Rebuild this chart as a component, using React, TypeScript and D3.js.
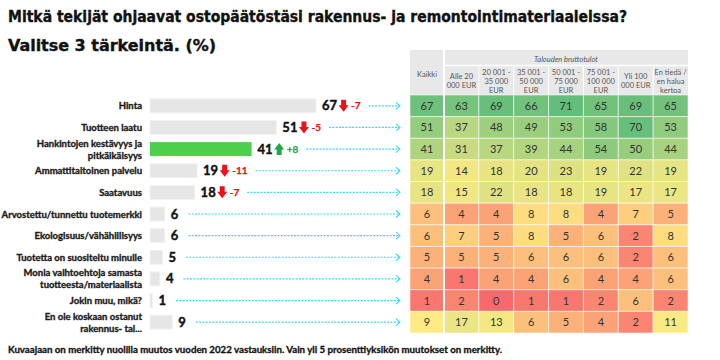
import React, { useEffect, useRef } from "react";
import * as d3 from "d3";

const title1 = "Mitkä tekijät ohjaavat ostopäätöstäsi rakennus- ja remontointimateriaaleissa?";
const title2 = "Valitse 3 tärkeintä. (%)";
const footnote =
  "Kuvaajaan on merkitty nuolilla muutos vuoden 2022 vastauksiin. Vain yli 5 prosenttiyksikön muutokset on merkitty.";

const categories = [
  "Hinta",
  "Tuotteen laatu",
  "Hankintojen kestävyys ja\npitkäikäisyys",
  "Ammattitaitoinen palvelu",
  "Saatavuus",
  "Arvostettu/tunnettu tuotemerkki",
  "Ekologisuus/vähähiilisyys",
  "Tuotetta on suositeltu minulle",
  "Monia vaihtoehtoja samasta\ntuotteesta/materiaalista",
  "Jokin muu, mikä?",
  "En ole koskaan ostanut\nrakennus- tai...",
];
const totals = [67, 51, 41, 19, 18, 6, 6, 5, 4, 1, 9];
const changes = [-7, -5, 8, -11, -7, null, null, null, null, null, null];
const highlighted = 2;

const groupTitle = "Talouden bruttotulot";
const columnHeaders = [
  "Kaikki",
  "Alle 20\n000 EUR",
  "20 001 -\n35 000\nEUR",
  "35 001 -\n50 000\nEUR",
  "50 001 -\n75 000\nEUR",
  "75 001 -\n100 000\nEUR",
  "Yli 100\n000 EUR",
  "En tiedä /\nen halua\nkertoa",
];
const kaikki = [67, 51, 41, 19, 18, 6, 6, 5, 4, 1, 9];
const alle20 = [63, 37, 31, 14, 15, 4, 7, 5, 1, 2, 17];
const tulot20to35 = [69, 48, 37, 18, 22, 4, 5, 5, 4, 0, 13];
const tulot35to50 = [66, 49, 39, 20, 18, 8, 8, 6, 4, 1, 6];
const tulot50to75 = [71, 53, 44, 23, 18, 8, 5, 6, 6, 1, 5];
const tulot75to100 = [65, 58, 54, 19, 19, 4, 6, 6, 4, 2, 4];
const yli100 = [69, 70, 50, 22, 17, 7, 2, 2, 4, 6, 2];
const enTieda = [65, 53, 44, 19, 17, 5, 8, 6, 6, 2, 11];
const tableColumns = [kaikki, alle20, tulot20to35, tulot35to50, tulot50to75, tulot75to100, yli100, enTieda];

const LABEL_FONT = "Lato, 'Open Sans', sans-serif";
const TITLE_FONT = "'DejaVu Sans Condensed', 'DejaVu Sans', sans-serif";

export default function App() {
  const ref = useRef<SVGSVGElement>(null);

  useEffect(() => {
    const svg = d3.select(ref.current);
    svg.selectAll("*").remove();

    const rowTop = 95, rowBottom = 333;
    const y = d3.scaleBand<number>().domain(d3.range(categories.length)).range([rowTop, rowBottom]);
    const cy = (i: number) => (y(i) as number) + y.bandwidth() / 2;

    // titles
    svg.append("text").attr("x", 8).attr("y", 22).text(title1)
      .attr("font-family", TITLE_FONT).attr("font-weight", 700).attr("font-size", 16)
      .attr("fill", "#111").attr("stroke", "#111").attr("stroke-width", 0.35)
      .attr("textLength", 619).attr("lengthAdjust", "spacingAndGlyphs");
    svg.append("text").attr("x", 8).attr("y", 51).text(title2)
      .attr("font-family", TITLE_FONT).attr("font-weight", 700).attr("font-size", 16)
      .attr("fill", "#111").attr("stroke", "#111").attr("stroke-width", 0.35)
      .attr("textLength", 208).attr("lengthAdjust", "spacingAndGlyphs");

    // bar chart
    const x = d3.scaleLinear().domain([0, 67]).range([150, 316]);
    const barH = 14;
    const bars = svg.append("g");
    categories.forEach((cat, i) => {
      const c = cy(i);
      const lines = cat.split("\n");
      const lab = bars.append("text").attr("text-anchor", "end")
        .attr("font-family", LABEL_FONT).attr("font-weight", 700).attr("font-size", 9.5)
        .attr("fill", "#1a1a1a").attr("stroke", "#1a1a1a").attr("stroke-width", 0.35);
      lines.forEach((l, k) => {
        lab.append("tspan").attr("x", 142)
          .attr("y", c + (k - (lines.length - 1) / 2) * 12 + 3.5).text(l);
      });

      bars.append("rect").attr("x", x(0)).attr("y", c - barH / 2)
        .attr("width", x(totals[i]) - x(0)).attr("height", barH)
        .attr("fill", i === highlighted ? "#4cd04c" : "#e6e6e7")
        .attr("stroke", i === highlighted ? "none" : "#f3f3f3").attr("stroke-width", 1);

      let cursor = x(totals[i]) + 6;
      const val = bars.append("text").attr("x", cursor).attr("y", c + 4.5).text(totals[i])
        .attr("font-family", LABEL_FONT).attr("font-weight", 700).attr("font-size", 13)
        .attr("fill", "#111").attr("stroke", "#111").attr("stroke-width", 0.4);
      cursor += (val.node() as SVGTextElement).getComputedTextLength() + 2;

      const ch = changes[i];
      if (ch !== null) {
        const col = ch < 0 ? "#e8141a" : "#21a84a";
        const ax = cursor + 4.5;
        const path = ch < 0
          ? `M${ax - 2.5},${c - 6}h5v5.5h2.5l-5,6.5l-5,-6.5h2.5z`
          : `M${ax - 2.5},${c + 6}h5v-5.5h2.5l-5,-6.5l-5,6.5h2.5z`;
        bars.append("path").attr("d", path).attr("fill", col);
        cursor += 12;
        const ct = bars.append("text").attr("x", cursor).attr("y", c + 3.5)
          .text(ch < 0 ? `${ch}` : `+${ch}`)
          .attr("font-family", LABEL_FONT).attr("font-weight", 700).attr("font-size", 10)
          .attr("fill", ch < 0 ? "#f01010" : "#2aa54a")
          .attr("stroke", ch < 0 ? "#f01010" : "#2aa54a").attr("stroke-width", 0.25);
        cursor += (ct.node() as SVGTextElement).getComputedTextLength();
      }

      const x0 = cursor + 8, x1 = 400;
      bars.append("line").attr("x1", x0).attr("x2", x1 - 1).attr("y1", c).attr("y2", c)
        .attr("stroke", "#35d8f5").attr("stroke-width", 1.2).attr("stroke-dasharray", "2,1.3");
      bars.append("path").attr("d", `M${x1 - 4},${c - 3.5}L${x1},${c}L${x1 - 4},${c + 3.5}`)
        .attr("fill", "none").attr("stroke", "#35d8f5").attr("stroke-width", 1.1);
    });

    // heatmap table
    const tx0 = 410, kaikkiW = 34, tx1 = 688;
    const colX = (j: number) => (j === 0 ? tx0 : tx0 + kaikkiW + (j - 1) * ((tx1 - tx0 - kaikkiW) / 7));
    const colW = (j: number) => (j === 0 ? kaikkiW : (tx1 - tx0 - kaikkiW) / 7);
    const color = d3.scaleLinear<string>().domain([0, 9, 71]).range(["#f8696b", "#ffeb84", "#63be7b"]);

    const table = svg.append("g");
    // header
    table.append("rect").attr("x", tx0).attr("y", 50).attr("width", tx1 - tx0).attr("height", rowTop - 50).attr("fill", "#e8e8e8");
    table.append("text").attr("x", (colX(1) + tx1) / 2).attr("y", 61.5).attr("text-anchor", "middle")
      .attr("font-family", LABEL_FONT).attr("font-style", "italic").attr("font-size", 7.5).attr("fill", "#555").text(groupTitle);
    table.append("line").attr("x1", colX(1)).attr("x2", tx1).attr("y1", 65.5).attr("y2", 65.5).attr("stroke", "#fff").attr("stroke-width", 1.5);
    columnHeaders.forEach((h, j) => {
      const lines = h.split("\n");
      const mid = j === 0 ? 74 : 81;
      const t = table.append("text").attr("text-anchor", "middle")
        .attr("font-family", LABEL_FONT).attr("font-size", 7.5).attr("fill", "#555");
      lines.forEach((l, k) => {
        t.append("tspan").attr("x", colX(j) + colW(j) / 2).attr("y", mid + (k - (lines.length - 1) / 2) * 9 + 2.7).text(l);
      });
      if (j > 1) {
        table.append("line").attr("x1", colX(j)).attr("x2", colX(j)).attr("y1", 66).attr("y2", rowTop)
          .attr("stroke", "#fff").attr("stroke-width", 1);
      }
    });

    // cells
    tableColumns.forEach((vals, j) => {
      vals.forEach((v, i) => {
        table.append("rect").attr("x", colX(j)).attr("y", y(i) as number)
          .attr("width", colW(j)).attr("height", y.bandwidth())
          .attr("fill", color(v)).attr("stroke", "rgba(255,255,255,0.55)").attr("stroke-width", 1);
        table.append("text").attr("x", colX(j) + colW(j) / 2).attr("y", cy(i) + 4)
          .attr("text-anchor", "middle").attr("font-family", LABEL_FONT).attr("font-size", 11)
          .attr("fill", "#333").text(v);
      });
    });
    table.append("line").attr("x1", colX(1)).attr("x2", colX(1)).attr("y1", 50).attr("y2", rowBottom)
      .attr("stroke", "#fff").attr("stroke-width", 2);

    // footnote
    svg.append("text").attr("x", 8).attr("y", 353).text(footnote)
      .attr("font-family", LABEL_FONT).attr("font-weight", 700).attr("font-size", 9.5)
      .attr("fill", "#111").attr("stroke", "#111").attr("stroke-width", 0.3)
      .attr("textLength", 494).attr("lengthAdjust", "spacingAndGlyphs");
  }, []);

  return (
    <svg
      ref={ref}
      width={720}
      height={360}
      style={{ position: "absolute", left: 0, top: 0, background: "#fff" }}
    />
  );
}
